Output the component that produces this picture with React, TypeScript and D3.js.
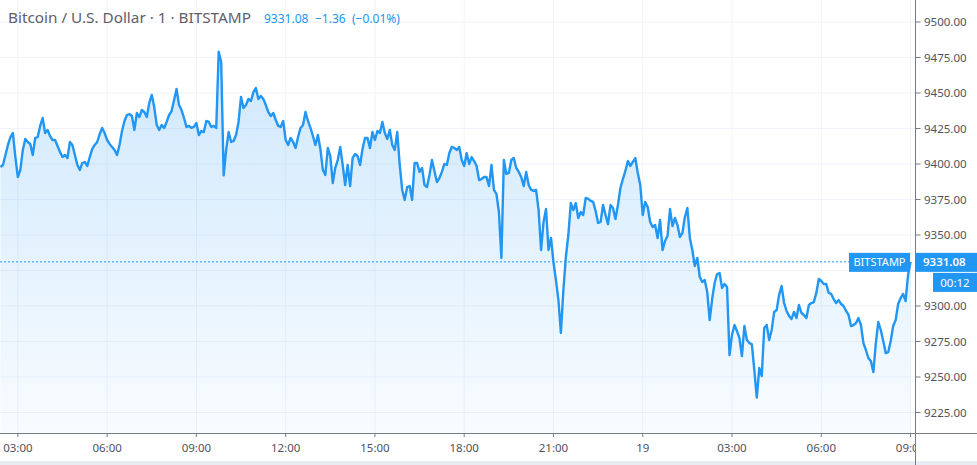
import React from "react";
import * as d3 from "d3";

const W = 977;
const H = 465;
const plotRight = 915.5;
const plotBottom = 433;

// 5 minute closes, BITSTAMP BTCUSD
const startTime = Date.UTC(2020, 5, 18, 2, 25);
const stepMinutes = 5;
const prices = [
  9397.9, 9399.3, 9406.3, 9413.4, 9419.0, 9421.8, 9404.9, 9390.8, 9395.8, 9409.9,
  9417.6, 9415.5, 9414.1, 9406.3, 9418.3, 9419.0, 9426.8, 9432.4, 9421.8, 9424.0,
  9419.7, 9416.9, 9416.9, 9412.7, 9408.5, 9404.9, 9406.3, 9404.2, 9415.5, 9413.4,
  9406.3, 9399.3, 9395.8, 9400.7, 9401.4, 9398.6, 9404.9, 9410.6, 9413.4, 9415.5,
  9421.1, 9425.4, 9421.8, 9416.9, 9414.1, 9412.0, 9409.9, 9406.3, 9413.4, 9423.2,
  9430.3, 9434.5, 9435.2, 9433.8, 9424.0, 9435.9, 9433.1, 9438.0, 9436.6, 9433.1,
  9443.0, 9448.6, 9440.1, 9427.5, 9424.0, 9427.5, 9425.4, 9429.6, 9434.5, 9437.3,
  9445.1, 9452.8, 9441.5, 9438.0, 9432.4, 9426.1, 9426.8, 9425.4, 9426.1, 9428.9,
  9420.4, 9423.2, 9422.5, 9430.3, 9429.6, 9426.1, 9426.8, 9425.4, 9479.0, 9471.8,
  9392.0, 9409.9, 9422.5, 9415.5, 9416.2, 9420.4, 9429.6, 9447.2, 9439.4, 9441.5,
  9445.8, 9444.4, 9450.7, 9453.5, 9445.8, 9447.9, 9445.8, 9441.5, 9436.6, 9433.8,
  9435.9, 9431.0, 9426.8, 9426.1, 9430.3, 9416.9, 9413.4, 9418.3, 9415.5, 9411.3,
  9419.0, 9425.4, 9427.5, 9436.6, 9430.3, 9425.4, 9419.7, 9413.4, 9420.4, 9410.6,
  9395.8, 9392.3, 9411.3, 9405.6, 9386.6, 9397.2, 9402.8, 9412.0, 9399.3, 9385.2,
  9399.3, 9384.5, 9404.2, 9407.0, 9405.6, 9399.3, 9410.6, 9418.3, 9418.3, 9411.3,
  9422.5, 9416.9, 9423.2, 9421.8, 9429.6, 9421.8, 9417.6, 9424.0, 9413.4, 9409.9,
  9422.5, 9399.3, 9381.7, 9374.7, 9383.8, 9384.5, 9374.7, 9400.7, 9400.7, 9394.4,
  9397.2, 9385.2, 9383.8, 9392.3, 9402.8, 9395.1, 9387.3, 9390.1, 9394.4, 9400.0,
  9399.3, 9407.7, 9412.0, 9411.3, 9409.9, 9412.0, 9402.8, 9398.6, 9407.7, 9400.0,
  9404.9, 9402.1, 9398.6, 9388.7, 9389.4, 9390.8, 9390.8, 9384.5, 9399.3, 9381.7,
  9378.9, 9366.2, 9333.8, 9402.8, 9393.0, 9393.7, 9402.8, 9404.2, 9397.2, 9394.4,
  9390.8, 9384.5, 9394.4, 9385.2, 9381.7, 9381.0, 9381.7, 9367.6, 9339.4, 9359.2,
  9368.3, 9339.4, 9347.9, 9331.0, 9318.3, 9304.2, 9281.0, 9311.3, 9334.5, 9350.0,
  9372.5, 9367.6, 9372.5, 9362.0, 9366.2, 9364.1, 9376.1, 9375.4, 9374.0, 9373.3,
  9366.9, 9358.5, 9359.2, 9371.1, 9364.1, 9357.7, 9371.1, 9369.0, 9361.3, 9371.1,
  9383.1, 9389.4, 9395.1, 9402.1, 9398.6, 9401.4, 9404.2, 9393.7, 9385.2, 9364.1,
  9373.3, 9369.7, 9359.2, 9355.6, 9357.0, 9347.9, 9360.6, 9339.4, 9345.8, 9349.3,
  9368.3, 9356.3, 9362.0, 9357.0, 9348.6, 9351.4, 9362.7, 9369.0, 9347.9, 9339.4,
  9328.2, 9333.8, 9320.4, 9316.9, 9318.3, 9309.9, 9290.1, 9304.9, 9316.2, 9322.5,
  9323.2, 9312.7, 9315.5, 9313.4, 9265.4, 9279.6, 9286.6, 9282.4, 9277.4, 9264.7,
  9285.9, 9276.0, 9273.9, 9273.2, 9254.9, 9235.5, 9256.3, 9250.7, 9284.5, 9286.6,
  9276.0, 9283.1, 9295.8, 9297.2, 9307.8, 9314.1, 9302.1, 9296.5, 9293.0, 9290.8,
  9295.8, 9291.5, 9300.7, 9295.1, 9293.7, 9291.5, 9300.7, 9302.1, 9302.8, 9309.2,
  9319.0, 9317.6, 9315.5, 9315.5, 9309.2, 9308.5, 9304.9, 9302.1, 9304.2, 9301.4,
  9300.0, 9296.5, 9293.7, 9285.9, 9286.6, 9288.0, 9291.5, 9286.6, 9273.9, 9269.0,
  9263.3, 9261.2, 9253.5, 9273.9, 9288.7, 9283.1, 9275.3, 9266.8, 9267.5, 9275.3,
  9285.9, 9290.1, 9301.4, 9305.6, 9308.5, 9303.5, 9321.8, 9331.08,
];

const priceTicks = [9225, 9250, 9275, 9300, 9325, 9350, 9375, 9400, 9425, 9450, 9475, 9500];
const hiddenTick = 9325; // sits under the last-price badges
const lastPrice = 9331.08;
const changeText = "\u22121.36";
const changePctText = "(\u22120.01%)";
const titleText = "Bitcoin / U.S. Dollar \u00b7 1 \u00b7 BITSTAMP";
const exchangeName = "BITSTAMP";
const countdown = "00:12";

const font = "'Noto Sans', sans-serif";
const blue = "#2196f3";
const textGray = "#50535e";
const gridColor = "#f0f3fa";
const axisColor = "#787b86";

type Pt = { t: Date; v: number };
const points: Pt[] = prices.map((v, i) => ({
  t: new Date(startTime + i * stepMinutes * 60000),
  v,
}));

const x = d3
  .scaleUtc()
  .domain([new Date(Date.UTC(2020, 5, 18, 2, 24)), new Date(Date.UTC(2020, 5, 19, 9, 9))])
  .range([0, 915]);

const y = d3.scaleLinear().domain([9210.56, 9515.49]).range([plotBottom, 0]);

const timeTicks = x.ticks(d3.utcHour.every(3) as d3.TimeInterval);
const fmtTime = (d: Date) =>
  d.getUTCHours() === 0 ? d3.utcFormat("%d")(d) : d3.utcFormat("%H:%M")(d);

export default function App() {
  const lineGen = d3
    .line<Pt>()
    .x((d) => x(d.t))
    .y((d) => y(d.v));
  const areaGen = d3
    .area<Pt>()
    .x((d) => x(d.t))
    .y0(plotBottom)
    .y1((d) => y(d.v));

  const yLast = y(lastPrice);

  return (
    <svg
      width={W}
      height={H}
      style={{ position: "fixed", left: 0, top: 0, background: "#fff" }}
      fontFamily={font}
    >
      <defs>
        <linearGradient id="fill" gradientUnits="userSpaceOnUse" x1="0" y1="50" x2="0" y2={plotBottom}>
          <stop offset="0" stopColor={blue} stopOpacity={0.22} />
          <stop offset="1" stopColor={blue} stopOpacity={0.03} />
        </linearGradient>
        <clipPath id="plot">
          <rect x={0} y={0} width={plotRight} height={plotBottom} />
        </clipPath>
        <clipPath id="timeaxis">
          <rect x={0} y={plotBottom} width={plotRight} height={H - plotBottom} />
        </clipPath>
      </defs>

      {/* grid */}
      <g>
        {priceTicks.map((p) => (
          <line key={p} x1={0} x2={plotRight} y1={y(p)} y2={y(p)} stroke={gridColor} />
        ))}
        {timeTicks.map((t) => (
          <line key={+t} x1={x(t)} x2={x(t)} y1={0} y2={plotBottom} stroke={gridColor} />
        ))}
      </g>

      {/* series */}
      <g clipPath="url(#plot)">
        <path d={areaGen(points) || ""} fill="url(#fill)" />
        <path
          d={lineGen(points) || ""}
          fill="none"
          stroke={blue}
          strokeWidth={2.4}
          strokeLinejoin="round"
        />
      </g>

      {/* last price line */}
      <line
        x1={0}
        x2={849}
        y1={yLast}
        y2={yLast}
        stroke={blue}
        strokeWidth={1}
        strokeDasharray="2,2"
      />

      {/* time axis */}
      <line x1={0} x2={W} y1={plotBottom + 0.5} y2={plotBottom + 0.5} stroke={axisColor} />
      <g clipPath="url(#timeaxis)">
        {timeTicks.map((t) => (
          <g key={+t} transform={`translate(${x(t)},0)`}>
            <line y1={plotBottom} y2={plotBottom + 4} stroke={axisColor} />
            <text y={452} textAnchor="middle" fontSize={11.5} fill={textGray}>
              {fmtTime(t)}
            </text>
          </g>
        ))}
      </g>
      <rect x={0} y={461} width={W} height={4} fill="#e9ecf2" />

      {/* price axis */}
      <line x1={plotRight} x2={plotRight} y1={0} y2={H} stroke={axisColor} />
      {priceTicks.map((p) => (
        <g key={p} transform={`translate(0,${y(p)})`}>
          <line x1={plotRight} x2={plotRight + 5} stroke={axisColor} />
          {p !== hiddenTick && (
            <text x={924} dy="0.36em" fontSize={11.5} fill={textGray}>
              {p.toFixed(2)}
            </text>
          )}
        </g>
      ))}

      {/* labels for last price */}
      <rect x={849} y={yLast - 9} width={61} height={19} fill={blue} />
      <text x={879.5} y={yLast} dy="0.36em" textAnchor="middle" fontSize={11} fill="#fff">
        {exchangeName}
      </text>
      <rect x={916} y={yLast - 9} width={W - 916} height={19} fill={blue} />
      <text x={923} y={yLast} dy="0.36em" fontSize={11.5} fill="#fff" fontWeight={600}>
        {lastPrice.toFixed(2)}
      </text>
      <rect x={933} y={yLast + 11} width={W - 933} height={19} fill={blue} />
      <text x={955} y={yLast + 20.5} dy="0.36em" textAnchor="middle" fontSize={11.5} fill="#fff">
        {countdown}
      </text>

      {/* title */}
      <text x={8} y={23} fontSize={15.3} fill="#5d606b">
        {titleText}
      </text>
      <text x={264} y={22.5} fontSize={12} fill={blue}>
        {lastPrice.toFixed(2)}
      </text>
      <text x={315} y={22.5} fontSize={12} fill={blue}>
        {changeText}
      </text>
      <text x={352} y={22.5} fontSize={12} fill={blue}>
        {changePctText}
      </text>
    </svg>
  );
}
